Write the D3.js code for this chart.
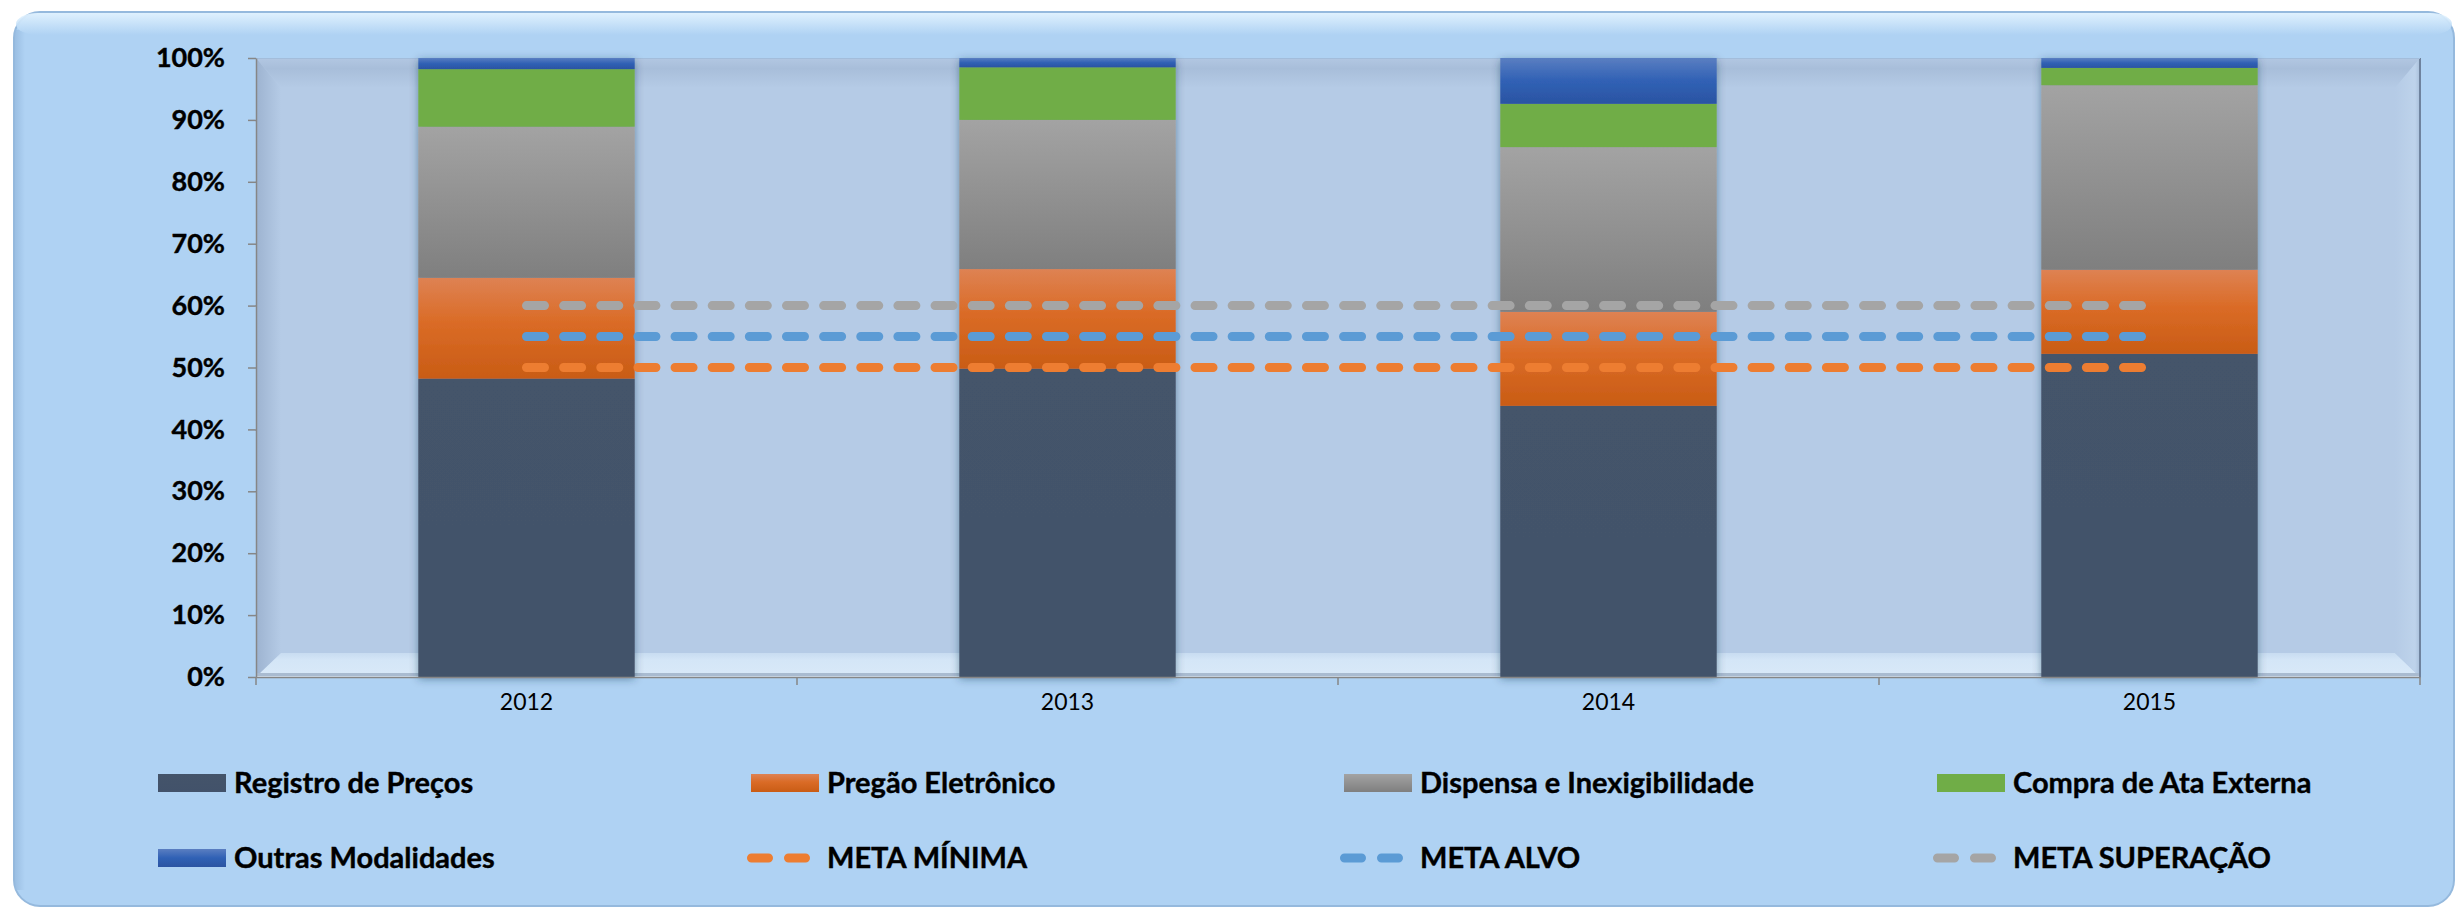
<!DOCTYPE html>
<html><head><meta charset="utf-8">
<script src="https://cdn.jsdelivr.net/npm/d3@7"></script>
<style>html,body{margin:0;padding:0;background:#ffffff;} svg{display:block;}</style>
</head><body><svg id="c" width="2459" height="910"></svg>
<script>
// ---------- DATA ----------
const categories = ["2012", "2013", "2014", "2015"];
const registroPrecos    = [48.2, 49.8, 43.8, 52.2];
const pregaoEletronico  = [16.3, 16.1, 15.2, 13.6];
const dispensaInexig    = [24.4, 24.1, 26.6, 29.8];
const compraAtaExterna  = [9.3, 8.5, 7.0, 2.8];
const outrasModalidades = [1.8, 1.5, 7.4, 1.6];
const metaMinima    = [50, 50, 50, 50];
const metaAlvo      = [55, 55, 55, 55];
const metaSuperacao = [60, 60, 60, 60];
const yTickValues = [0, 10, 20, 30, 40, 50, 60, 70, 80, 90, 100];
const barSeriesNames  = ["Registro de Preços", "Pregão Eletrônico", "Dispensa e Inexigibilidade", "Compra de Ata Externa", "Outras Modalidades"];
const lineSeriesNames = ["META MÍNIMA", "META ALVO", "META SUPERAÇÃO"];

// ---------- SETUP ----------
const svg = d3.select("#c");
const plot = {x0: 256, x1: 2420, y0: 58, y1: 677};
const FONT = "Lato, 'Open Sans', 'Liberation Sans', sans-serif";

const barValues = [registroPrecos, pregaoEletronico, dispensaInexig, compraAtaExterna, outrasModalidades];
const lineValues = [metaMinima, metaAlvo, metaSuperacao];
const barFills = ["url(#gReg)", "url(#gPre)", "url(#gDis)", "url(#gCom)", "url(#gOut)"];
const lineColors = ["#ED7D31", "#5B9BD5", "#A5A5A5"];

const defs = svg.append("defs");
function vGrad(id, stops, horiz) {
  const g = defs.append("linearGradient").attr("id", id)
    .attr("x1", 0).attr("y1", 0).attr("x2", horiz ? 1 : 0).attr("y2", horiz ? 0 : 1);
  stops.forEach(s => g.append("stop").attr("offset", s[0]).attr("stop-color", s[1]));
}
vGrad("gReg", [[0, "#44546A"], [1, "#42526A"]]);
vGrad("gPre", [[0, "#DE8253"], [0.45, "#DA6B26"], [1, "#C95C15"]]);
vGrad("gDis", [[0, "#A3A3A3"], [1, "#7F7F7F"]]);
vGrad("gCom", [[0, "#70AD47"], [1, "#70AD47"]]);
vGrad("gOut", [[0, "#5A7EC1"], [0.5, "#3061B5"], [1, "#2B54A2"]]);
vGrad("panelTop", [[0, "#E4F4FF"], [1, "#AFD2F3"]]);
vGrad("panelLeft", [[0, "#96BADF"], [1, "#AFD2F3"]], true);
vGrad("bevTop", [[0, "#B2C7E2"], [0.35, "#A8BEDA"], [1, "#B5CBE6"]]);
vGrad("bevLeft", [[0, "#9DB3D0"], [1, "#B5CBE6"]], true);
vGrad("bevBot", [[0, "#C8DCF1"], [0.3, "#D4E6F7"], [1, "#D9E9F8"]]);
vGrad("bevRight", [[0, "#B5CBE6"], [0.8, "#BED3EB"], [1, "#A9BFDA"]], true);

const shadow = defs.append("filter").attr("id", "barShadow")
  .attr("x", "-20%").attr("y", "-5%").attr("width", "140%").attr("height", "110%");
shadow.append("feDropShadow").attr("dx", 0).attr("dy", 2).attr("stdDeviation", 4)
  .attr("flood-color", "#1f3350").attr("flood-opacity", 0.45);

// ---------- PANEL ----------
svg.append("rect").attr("x", 14).attr("y", 12).attr("width", 2440).attr("height", 894)
  .attr("rx", 26).attr("fill", "#AFD2F3").attr("stroke", "#95B9DD").attr("stroke-width", 2);
svg.append("rect").attr("x", 15).attr("y", 30).attr("width", 10).attr("height", 860)
  .attr("fill", "url(#panelLeft)").attr("opacity", 0.8);
svg.append("rect").attr("x", 16).attr("y", 13).attr("width", 2436).attr("height", 22)
  .attr("rx", 22).attr("fill", "url(#panelTop)").attr("opacity", 0.9);

// ---------- PLOT AREA (bevelled) ----------
const b = 25;
const P = plot;
svg.append("rect").attr("x", P.x0).attr("y", P.y0).attr("width", P.x1 - P.x0).attr("height", P.y1 - P.y0).attr("fill", "#B5CBE6");
const poly = (pts, fill) => svg.append("polygon").attr("points", pts.map(p => p.join(",")).join(" ")).attr("fill", fill);
poly([[P.x0, P.y0], [P.x1, P.y0], [P.x1 - b, P.y0 + 30], [P.x0 + b, P.y0 + 30]], "url(#bevTop)");
poly([[P.x0, P.y0], [P.x0 + b, P.y0 + 30], [P.x0 + b, P.y1 - 24], [P.x0, P.y1]], "url(#bevLeft)");
poly([[P.x0, P.y1], [P.x0 + b, P.y1 - 24], [P.x1 - b, P.y1 - 24], [P.x1, P.y1]], "url(#bevBot)");
poly([[P.x1, P.y0], [P.x1, P.y1], [P.x1 - b, P.y1 - 24], [P.x1 - b, P.y0 + 30]], "url(#bevRight)");
svg.append("line").attr("x1", P.x0).attr("x2", P.x1).attr("y1", P.y1 - 2.5).attr("y2", P.y1 - 2.5)
  .attr("stroke", "#A9BBD0").attr("stroke-width", 3);
svg.append("line").attr("x1", P.x1).attr("x2", P.x1).attr("y1", P.y0).attr("y2", P.y1)
  .attr("stroke", "#6F839E").attr("stroke-width", 2);
svg.append("line").attr("x1", P.x0).attr("x2", P.x1).attr("y1", P.y0 + 0.5).attr("y2", P.y0 + 0.5)
  .attr("stroke", "#A3BDDB").attr("stroke-width", 1);

// ---------- SCALES ----------
const x = d3.scaleBand().domain(categories).range([P.x0, P.x1]).paddingInner(0.6).paddingOuter(0.3);
const y = d3.scaleLinear().domain([0, 100]).range([P.y1, P.y0]);

// ---------- BARS ----------
const stackRows = categories.map((c, i) => {
  const row = {cat: c};
  barSeriesNames.forEach((n, k) => row[n] = barValues[k][i]);
  return row;
});
const stacked = d3.stack().keys(barSeriesNames)(stackRows);
const barG = svg.append("g").attr("filter", "url(#barShadow)");
stacked.forEach((layer, k) => {
  barG.selectAll(null).data(layer).enter().append("rect")
    .attr("x", d => x(d.data.cat))
    .attr("width", x.bandwidth())
    .attr("y", d => y(d[1]))
    .attr("height", d => y(d[0]) - y(d[1]))
    .attr("fill", barFills[k]);
});

// ---------- AXES ----------
const yAxis = svg.append("g").attr("transform", `translate(${P.x0},0)`)
  .call(d3.axisLeft(y).tickValues(yTickValues).tickFormat(d => d + "%").tickSize(8).tickSizeOuter(0).tickPadding(23));
yAxis.select(".domain").attr("stroke", "#868686").attr("stroke-width", 1.5);
yAxis.selectAll(".tick line").attr("stroke", "#868686").attr("stroke-width", 1.5);
yAxis.selectAll(".tick text").attr("font-family", FONT).attr("font-size", 27).attr("font-weight", "bold")
  .attr("fill", "#000").attr("stroke", "#000").attr("stroke-width", 0.4);

const xAxis = svg.append("g").attr("transform", `translate(0,${P.y1})`)
  .call(d3.axisBottom(x).tickSize(0).tickSizeOuter(0));
xAxis.select(".domain").attr("stroke", "#868686").attr("stroke-width", 1.5);
xAxis.selectAll(".tick text").attr("font-family", FONT).attr("font-size", 23).attr("fill", "#000")
  .attr("y", 25).attr("dy", "0.35em");
const boundaries = d3.range(categories.length + 1).map(i => P.x0 + i * x.step());
xAxis.selectAll(".bnd").data(boundaries).enter().append("line").attr("class", "bnd")
  .attr("x1", d => d).attr("x2", d => d).attr("y1", 0).attr("y2", 8)
  .attr("stroke", "#868686").attr("stroke-width", 1.5);

// ---------- META LINES ----------
const lineGen = d3.line().x((d, i) => x(categories[i]) + x.bandwidth() / 2).y(d => y(d));
lineValues.forEach((vals, k) => {
  svg.append("path").datum(vals).attr("d", lineGen).attr("fill", "none")
    .attr("stroke", lineColors[k]).attr("stroke-width", 9)
    .attr("stroke-linecap", "round").attr("stroke-dasharray", "18,19.14");
});

// ---------- LEGEND ----------
const legendItems = barSeriesNames.map((n, k) => ({name: n, type: "bar", fill: barFills[k]}))
  .concat(lineSeriesNames.map((n, k) => ({name: n, type: "line", color: lineColors[k]})));
const colX = [158, 751, 1344, 1937];
const rowY = [783, 858];
const leg = svg.append("g");
legendItems.forEach((it, i) => {
  const gx = colX[i % 4], gy = rowY[Math.floor(i / 4)];
  const g = leg.append("g").attr("transform", `translate(${gx},${gy})`);
  if (it.type === "bar") {
    g.append("rect").attr("x", 0).attr("y", -9).attr("width", 68).attr("height", 18).attr("fill", it.fill);
  } else {
    g.append("line").attr("x1", 0.5).attr("x2", 55).attr("y1", 0).attr("y2", 0)
      .attr("stroke", it.color).attr("stroke-width", 9).attr("stroke-linecap", "round")
      .attr("stroke-dasharray", "17,20");
  }
  g.append("text").attr("x", 76).attr("y", 0).attr("dy", "0.35em")
    .attr("font-family", FONT).attr("font-size", 29).attr("font-weight", "bold").attr("fill", "#000")
    .attr("stroke", "#000").attr("stroke-width", 0.4)
    .text(it.name);
});
</script>
</body></html>
